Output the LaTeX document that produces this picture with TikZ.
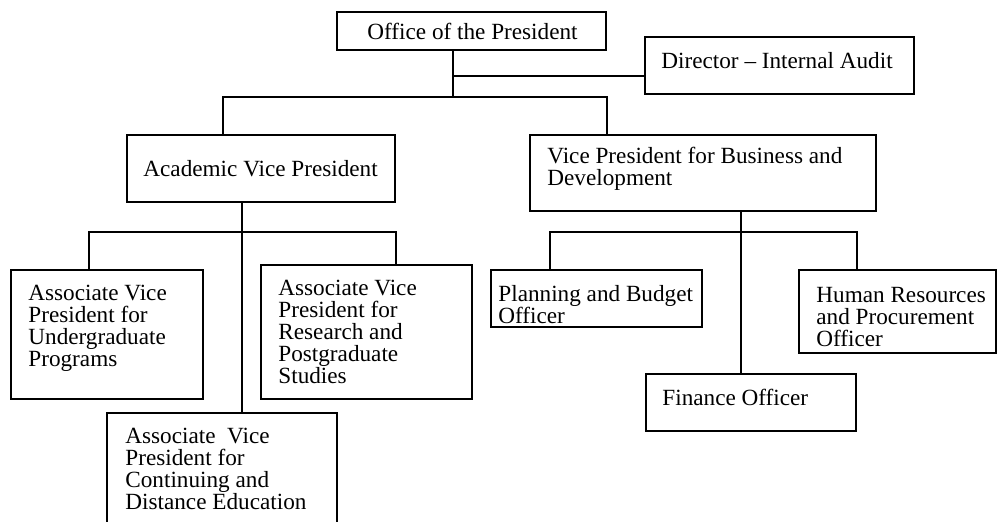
\documentclass[tikz,border=0pt]{standalone}
\usepackage{fontspec}
\setmainfont{Liberation Serif}
\usetikzlibrary{fit}

\tikzstyle{box}=[draw, line width=1pt, inner sep=0pt]
\tikzstyle{txt}=[anchor=north west, align=left, inner sep=0pt, font=\fontsize{11.6}{11}\selectfont]
\tikzstyle{conn}=[line width=0.8pt]

\begin{document}
\begin{tikzpicture}[x=0.5pt, y=-0.5pt]
      \clip (0,0) rectangle (998,522);

      % boxes
      \node[box, fit={(337,12) (606,50)}] (pres) {};
      \node[box, fit={(645,37) (914,94)}] (dir) {};
      \node[box, fit={(127,135) (395,202)}] (avp) {};
      \node[box, fit={(530,135) (876,211)}] (bvp) {};
      \node[box, fit={(11,270) (203,399)}] (uvp) {};
      \node[box, fit={(261,265) (472,399)}] (rvp) {};
      \node[box, fit={(107,413) (337,540)}] (cvp) {};
      \node[box, fit={(491,270) (702,327)}] (pbo) {};
      \node[box, fit={(799,270) (996,353)}] (hrp) {};
      \node[box, fit={(646,374) (856,431)}] (fin) {};

      % texts
      \node[txt] (prest) at (367,23) {Office of the President};
      \node[txt] (dirt) at (661,52) {Director -- Internal Audit};
      \node[txt] (avpt) at (143,160) {Academic Vice President};
      \node[txt] (bvpt) at (547,147) {Vice President for Business and\\Development};
      \node[txt] (uvpt) at (28,285) {Associate Vice\\President for\\Undergraduate\\Programs};
      \node[txt] (rvpt) at (278,280) {Associate Vice\\President for\\Research and\\Postgraduate\\Studies};
      \node[txt] (cvpt) at (125,428) {Associate\ \ Vice\\President for\\Continuing and\\Distance Education};
      \node[txt] (pbot) at (498,285) {Planning and Budget\\Officer};
      \node[txt] (hrpt) at (816,287) {Human Resources\\and Procurement\\Officer};
      \node[txt] (fint) at (662,389) {Finance Officer};

      % junctions
      \coordinate (pj) at (453,97);
      \coordinate (dj) at (453,76);
      \coordinate (aj) at (242,232);
      \coordinate (bj) at (741,232);

      \draw[conn] (pres.south -| pj) -- (pj);
      \draw[conn] (dj) -- (dj -| dir.west);
      \draw[conn] (avp.north -| 223,0) |- (pj) -| (bvp.north -| 607,0);

      \draw[conn] (avp.south -| aj) -- (cvp.north -| aj);
      \draw[conn] (uvp.north -| 89,0) |- (aj) -| (rvp.north -| 396,0);

      \draw[conn] (bvp.south -| bj) -- (fin.north -| bj);
      \draw[conn] (pbo.north -| 550,0) |- (bj) -| (hrp.north -| 857,0);
    \end{tikzpicture}
\end{document}
